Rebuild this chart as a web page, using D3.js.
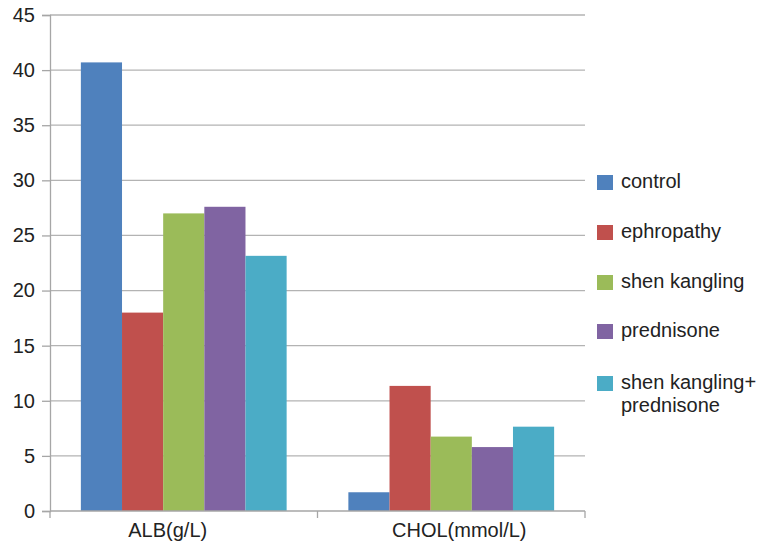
<!DOCTYPE html>
<html lang="en">
<head>
<meta charset="UTF-8">
<title>ALB and CHOL by group</title>
<script src="https://d3js.org/d3.v7.min.js"></script>
<style>
    body { margin: 0; background: #fff; }
    text { font-family: "Liberation Sans", Arial, sans-serif; fill: #222; }
</style>
</head>
<body>
<script>
    // data
    const categories = ["ALB(g/L)", "CHOL(mmol/L)"];
    const groups = ["control", "ephropathy", "shen kangling", "prednisone", "shen kangling+ prednisone"];
    const control = [40.7, 1.7];
    const ephropathy = [18.0, 11.35];
    const shenKangling = [27.0, 6.75];
    const prednisone = [27.6, 5.8];
    const combined = [23.15, 7.65];
    const yTicks = [0, 5, 10, 15, 20, 25, 30, 35, 40, 45];

    const seriesValues = [control, ephropathy, shenKangling, prednisone, combined];
    const colors = ["#4F81BD", "#C0504D", "#9BBB59", "#8064A2", "#4BACC6"];

    const width = 763, height = 544;
    const margin = { top: 15, right: 178, bottom: 33, left: 50 };
    const innerW = width - margin.left - margin.right;
    const innerH = height - margin.top - margin.bottom;

    const svg = d3.select("body").append("svg")
        .attr("width", width)
        .attr("height", height);
    const g = svg.append("g").attr("transform", `translate(${margin.left},${margin.top})`);

    const x0 = d3.scaleBand().domain(categories).range([0, innerW]);
    // 5 bars + 1.5 bar widths of gap per category
    const barW = x0.bandwidth() / 6.5;
    const x1 = d3.scaleBand().domain(groups)
        .range([0.75 * barW, x0.bandwidth() - 0.75 * barW]);
    const y = d3.scaleLinear().domain([0, 45]).range([innerH, 0]);

    // gridlines
    g.append("g").selectAll("line")
        .data(yTicks.filter(d => d > 0))
        .join("line")
        .attr("x1", 0).attr("x2", innerW)
        .attr("y1", d => y(d)).attr("y2", d => y(d))
        .attr("stroke", "#b3b3b3").attr("stroke-width", 1.3);

    // bars
    const rows = [];
    categories.forEach((c, ci) => {
        groups.forEach((s, si) => rows.push({ cat: c, group: s, value: seriesValues[si][ci], color: colors[si] }));
    });
    g.append("g").selectAll("rect")
        .data(rows)
        .join("rect")
        .attr("x", d => x0(d.cat) + x1(d.group))
        .attr("y", d => y(d.value))
        .attr("width", x1.bandwidth())
        .attr("height", d => innerH - y(d.value))
        .attr("fill", d => d.color);

    // y axis
    const yAxis = g.append("g")
        .call(d3.axisLeft(y).tickValues(yTicks).tickSize(8).tickPadding(7));
    yAxis.select(".domain").attr("stroke", "#a6a6a6").attr("stroke-width", 1.3);
    yAxis.selectAll(".tick line").attr("stroke", "#a6a6a6").attr("stroke-width", 1.3);
    yAxis.selectAll("text").style("font-size", "20px").attr("fill", "#222");

    // x axis
    const xAxis = g.append("g").attr("transform", `translate(0,${innerH})`);
    xAxis.append("line")
        .attr("x1", 0).attr("x2", innerW)
        .attr("stroke", "#a6a6a6").attr("stroke-width", 1.3);
    xAxis.selectAll("line.tick")
        .data([0, innerW / 2, innerW])
        .join("line").attr("class", "tick")
        .attr("x1", d => d).attr("x2", d => d)
        .attr("y1", 0).attr("y2", 7)
        .attr("stroke", "#a6a6a6").attr("stroke-width", 1.3);
    // labels in the original are not quite centred under their groups
    const labelShift = [-16, 8];
    xAxis.selectAll("text")
        .data(categories)
        .join("text")
        .attr("x", (d, i) => x0(d) + x0.bandwidth() / 2 + labelShift[i])
        .attr("y", 26)
        .attr("text-anchor", "middle")
        .style("font-size", "20px")
        .text(d => d);

    // legend
    const legendY = [188, 238, 288, 337, 389];
    const legend = svg.append("g").attr("transform", "translate(597,0)");
    const item = legend.selectAll("g")
        .data(groups)
        .join("g")
        .attr("transform", (d, i) => `translate(0,${legendY[i]})`);
    item.append("rect")
        .attr("x", 0).attr("y", -13)
        .attr("width", 16).attr("height", 15)
        .attr("fill", (d, i) => colors[i]);
    item.append("text")
        .attr("x", 24).attr("y", 0)
        .style("font-size", "20px")
        .each(function (d) {
            const parts = d === "shen kangling+ prednisone" ? ["shen kangling+", "prednisone"] : [d];
            d3.select(this).selectAll("tspan")
                .data(parts)
                .join("tspan")
                .attr("x", 24)
                .attr("dy", (p, i) => i ? 23 : 0)
                .text(p => p);
        });
</script>
</body>
</html>
